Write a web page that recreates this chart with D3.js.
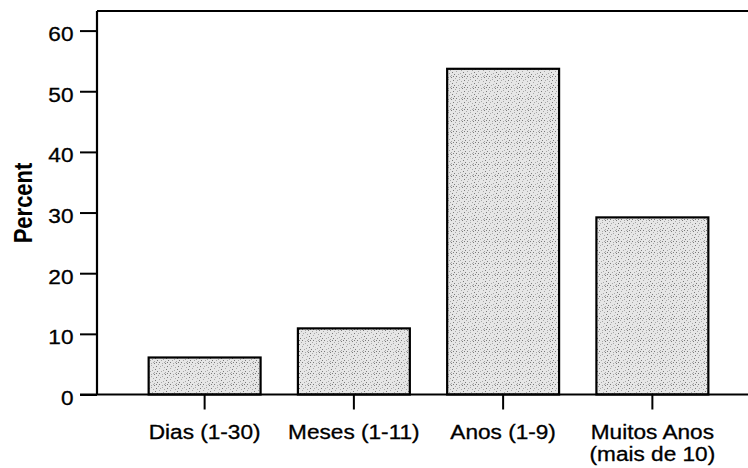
<!DOCTYPE html>
<html><head><meta charset="utf-8">
<script src="https://cdn.jsdelivr.net/npm/d3@7"></script>
<style>body{margin:0;background:#fff}svg{display:block}text{font-family:"Liberation Sans",Arial,sans-serif;fill:#000}</style>
</head><body>
<script>
const categories = ["Dias (1-30)", "Meses (1-11)", "Anos (1-9)", "Muitos Anos|(mais de 10)"];
const percents = [6.1, 10.9, 53.7, 29.2];
const yTicks = [0, 10, 20, 30, 40, 50, 60];
const yLabel = "Percent";

(function () {
const W = 748, H = 468, SX = 1.16;
const svg = d3.select("body").append("svg").attr("width", W).attr("height", H);

const defs = svg.append("defs");
const pat = defs.append("pattern").attr("id", "stip").attr("patternUnits", "userSpaceOnUse")
  .attr("width", 11).attr("height", 11);
pat.append("rect").attr("width", 11).attr("height", 11).attr("fill", "#e6e6e6");
const dots = [[0,0],[4,1],[8,0],[2,3],[6,3],[10,4],[1,6],[5,5],[9,7],[3,8],[7,8],[0,9],[5,10],[10,10],[8,2],[2,10]];
dots.forEach(([a,b], k) =>
  pat.append("rect").attr("x", a).attr("y", b).attr("width", 1).attr("height", 1)
    .attr("fill", k % 3 === 0 ? "#7a7a7a" : "#a8a8a8"));

const x = d3.scaleBand().domain(categories).range([130, 727]).paddingInner(0.25).paddingOuter(0.125);
const y = d3.scaleLinear().domain([0, 60]).range([394.5, 30.6]);
const leftX = 97, topY = 11;

// bars
svg.append("g").selectAll("rect").data(categories).join("rect")
  .attr("x", d => x(d)).attr("width", x.bandwidth())
  .attr("y", (d, i) => y(percents[i])).attr("height", (d, i) => y(0) - y(percents[i]))
  .attr("fill", "url(#stip)").attr("stroke", "#000").attr("stroke-width", 2.2);

// frame top
svg.append("line").attr("x1", leftX).attr("x2", W).attr("y1", topY).attr("y2", topY)
  .attr("stroke", "#000").attr("stroke-width", 2);

// y axis
const ya = svg.append("g").attr("transform", `translate(${leftX},0)`)
  .call(d3.axisLeft(y).tickValues(yTicks).tickSize(17).tickSizeOuter(0));
ya.select(".domain").attr("d", `M0,${topY}V${y(0)}`).attr("stroke-width", 2.2);
ya.selectAll(".tick line").attr("stroke-width", 2);
ya.selectAll(".tick text").attr("x", null).attr("dy", null)
  .attr("transform", `translate(-23.5,10) scale(${SX},1)`)
  .attr("font-size", 19.5).attr("font-family", "Liberation Sans, Arial, sans-serif").attr("text-anchor", "end")
  .attr("stroke", "#000").attr("stroke-width", 0.3);

// x axis
const xa = svg.append("g").attr("transform", `translate(0,${y(0)})`)
  .call(d3.axisBottom(x).tickSize(15).tickSizeOuter(0).tickFormat(""));
xa.select(".domain").attr("d", `M${leftX - 17},0H${W}`).attr("stroke-width", 2.2);
xa.selectAll(".tick line").attr("stroke-width", 2);
xa.selectAll(".tick").each(function(d) {
  const lines = d.split("|");
  const g = d3.select(this);
  lines.forEach((t, i) => {
    g.append("text").attr("transform", `translate(0,${44 + i * 22.5}) scale(${SX},1)`)
      .attr("text-anchor", "middle").attr("font-size", 19.5)
      .attr("font-family", "Liberation Sans, Arial, sans-serif").attr("fill", "#000")
      .attr("stroke", "#000").attr("stroke-width", 0.3).text(t);
  });
});

// y label
svg.append("text").attr("transform", `translate(32,203) rotate(-90) scale(1,${SX})`)
  .attr("text-anchor", "middle").attr("font-size", 22).attr("font-weight", "bold").text(yLabel);
})();
</script>
</body></html>
